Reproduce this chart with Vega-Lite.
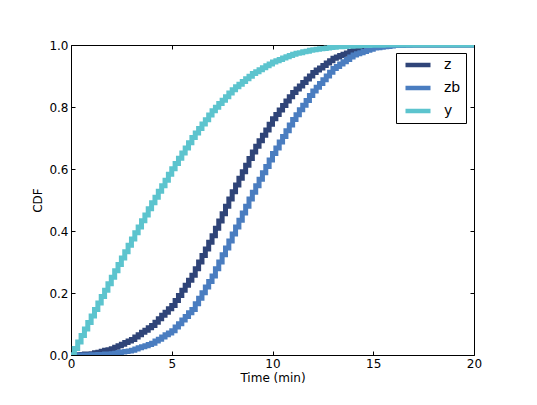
{
  "$schema": "https://vega.github.io/schema/vega-lite/v6.json",
  "width": 403,
  "height": 310,
  "autosize": {"type": "none"},
  "padding": {"left": 71, "top": 45, "right": 63, "bottom": 50},
  "background": "white",
  "config": {
    "font": "DejaVu Sans",
    "view": {"stroke": "#000", "strokeWidth": 1},
    "axis": {
      "grid": false, "domain": false, "tickColor": "#000", "tickWidth": 1, "tickSize": -4,
      "labelColor": "#000", "labelFont": "DejaVu Sans", "labelFontSize": 12,
      "titleFont": "DejaVu Sans", "titleFontSize": 12, "titleColor": "#000", "titleFontWeight": "normal",
      "labelFlush": false, "labelOverlap": false
    }
  },
  "data": {"values": [
    {"t":0,"z":0,"zb":0,"y":0},
    {"t":0.167,"z":0.001,"zb":0,"y":0.021},
    {"t":0.333,"z":0.001,"zb":0,"y":0.042},
    {"t":0.5,"z":0.002,"zb":0,"y":0.063},
    {"t":0.667,"z":0.003,"zb":0,"y":0.084},
    {"t":0.833,"z":0.003,"zb":0,"y":0.105},
    {"t":1,"z":0.004,"zb":0.001,"y":0.126},
    {"t":1.167,"z":0.007,"zb":0.001,"y":0.147},
    {"t":1.333,"z":0.009,"zb":0.002,"y":0.168},
    {"t":1.5,"z":0.012,"zb":0.002,"y":0.189},
    {"t":1.667,"z":0.015,"zb":0.003,"y":0.209},
    {"t":1.833,"z":0.017,"zb":0.003,"y":0.230},
    {"t":2,"z":0.020,"zb":0.004,"y":0.251},
    {"t":2.167,"z":0.025,"zb":0.006,"y":0.272},
    {"t":2.333,"z":0.030,"zb":0.008,"y":0.292},
    {"t":2.5,"z":0.035,"zb":0.010,"y":0.313},
    {"t":2.667,"z":0.040,"zb":0.011,"y":0.333},
    {"t":2.833,"z":0.045,"zb":0.013,"y":0.354},
    {"t":3,"z":0.050,"zb":0.015,"y":0.374},
    {"t":3.167,"z":0.058,"zb":0.019,"y":0.394},
    {"t":3.333,"z":0.065,"zb":0.023,"y":0.413},
    {"t":3.5,"z":0.073,"zb":0.027,"y":0.433},
    {"t":3.667,"z":0.080,"zb":0.030,"y":0.452},
    {"t":3.833,"z":0.088,"zb":0.034,"y":0.472},
    {"t":4,"z":0.095,"zb":0.038,"y":0.491},
    {"t":4.167,"z":0.106,"zb":0.045,"y":0.509},
    {"t":4.333,"z":0.117,"zb":0.051,"y":0.528},
    {"t":4.5,"z":0.128,"zb":0.058,"y":0.546},
    {"t":4.667,"z":0.138,"zb":0.065,"y":0.564},
    {"t":4.833,"z":0.149,"zb":0.071,"y":0.583},
    {"t":5,"z":0.160,"zb":0.078,"y":0.601},
    {"t":5.167,"z":0.176,"zb":0.090,"y":0.618},
    {"t":5.333,"z":0.192,"zb":0.101,"y":0.635},
    {"t":5.5,"z":0.209,"zb":0.113,"y":0.652},
    {"t":5.667,"z":0.225,"zb":0.124,"y":0.668},
    {"t":5.833,"z":0.241,"zb":0.136,"y":0.685},
    {"t":6,"z":0.257,"zb":0.147,"y":0.702},
    {"t":6.167,"z":0.278,"zb":0.165,"y":0.716},
    {"t":6.333,"z":0.300,"zb":0.183,"y":0.731},
    {"t":6.5,"z":0.321,"zb":0.201,"y":0.745},
    {"t":6.667,"z":0.342,"zb":0.219,"y":0.759},
    {"t":6.833,"z":0.364,"zb":0.237,"y":0.774},
    {"t":7,"z":0.385,"zb":0.255,"y":0.788},
    {"t":7.167,"z":0.409,"zb":0.278,"y":0.799},
    {"t":7.333,"z":0.432,"zb":0.300,"y":0.811},
    {"t":7.5,"z":0.456,"zb":0.323,"y":0.822},
    {"t":7.667,"z":0.480,"zb":0.345,"y":0.833},
    {"t":7.833,"z":0.503,"zb":0.368,"y":0.845},
    {"t":8,"z":0.527,"zb":0.390,"y":0.856},
    {"t":8.167,"z":0.548,"zb":0.413,"y":0.865},
    {"t":8.333,"z":0.570,"zb":0.435,"y":0.873},
    {"t":8.5,"z":0.591,"zb":0.458,"y":0.882},
    {"t":8.667,"z":0.612,"zb":0.480,"y":0.891},
    {"t":8.833,"z":0.634,"zb":0.503,"y":0.899},
    {"t":9,"z":0.655,"zb":0.525,"y":0.908},
    {"t":9.167,"z":0.673,"zb":0.546,"y":0.914},
    {"t":9.333,"z":0.691,"zb":0.567,"y":0.920},
    {"t":9.5,"z":0.709,"zb":0.588,"y":0.927},
    {"t":9.667,"z":0.726,"zb":0.608,"y":0.933},
    {"t":9.833,"z":0.744,"zb":0.629,"y":0.939},
    {"t":10,"z":0.762,"zb":0.650,"y":0.945},
    {"t":10.167,"z":0.776,"zb":0.668,"y":0.949},
    {"t":10.333,"z":0.790,"zb":0.687,"y":0.953},
    {"t":10.5,"z":0.805,"zb":0.705,"y":0.958},
    {"t":10.667,"z":0.819,"zb":0.723,"y":0.962},
    {"t":10.833,"z":0.833,"zb":0.742,"y":0.966},
    {"t":11,"z":0.847,"zb":0.760,"y":0.970},
    {"t":11.167,"z":0.858,"zb":0.775,"y":0.973},
    {"t":11.333,"z":0.868,"zb":0.791,"y":0.975},
    {"t":11.5,"z":0.879,"zb":0.806,"y":0.978},
    {"t":11.667,"z":0.890,"zb":0.821,"y":0.980},
    {"t":11.833,"z":0.900,"zb":0.837,"y":0.983},
    {"t":12,"z":0.911,"zb":0.852,"y":0.985},
    {"t":12.167,"z":0.919,"zb":0.864,"y":0.986},
    {"t":12.333,"z":0.926,"zb":0.876,"y":0.988},
    {"t":12.5,"z":0.934,"zb":0.888,"y":0.989},
    {"t":12.667,"z":0.942,"zb":0.900,"y":0.990},
    {"t":12.833,"z":0.949,"zb":0.912,"y":0.992},
    {"t":13,"z":0.957,"zb":0.924,"y":0.993},
    {"t":13.167,"z":0.961,"zb":0.931,"y":0.994},
    {"t":13.333,"z":0.966,"zb":0.939,"y":0.994},
    {"t":13.5,"z":0.970,"zb":0.946,"y":0.995},
    {"t":13.667,"z":0.974,"zb":0.953,"y":0.996},
    {"t":13.833,"z":0.979,"zb":0.961,"y":0.996},
    {"t":14,"z":0.983,"zb":0.968,"y":0.997},
    {"t":14.167,"z":0.985,"zb":0.972,"y":0.997},
    {"t":14.333,"z":0.987,"zb":0.975,"y":0.998},
    {"t":14.5,"z":0.989,"zb":0.979,"y":0.998},
    {"t":14.667,"z":0.991,"zb":0.983,"y":0.998},
    {"t":14.833,"z":0.993,"zb":0.986,"y":0.999},
    {"t":15,"z":0.995,"zb":0.990,"y":0.999},
    {"t":15.167,"z":0.996,"zb":0.991,"y":0.999},
    {"t":15.333,"z":0.996,"zb":0.993,"y":0.999},
    {"t":15.5,"z":0.997,"zb":0.994,"y":1},
    {"t":15.667,"z":0.998,"zb":0.995,"y":1},
    {"t":15.833,"z":0.998,"zb":0.997,"y":1},
    {"t":16,"z":0.999,"zb":0.998,"y":1},
    {"t":16.167,"z":0.999,"zb":0.998,"y":1},
    {"t":16.333,"z":0.999,"zb":0.999,"y":1},
    {"t":16.5,"z":1,"zb":0.999,"y":1},
    {"t":16.667,"z":1,"zb":0.999,"y":1},
    {"t":16.833,"z":1,"zb":1,"y":1},
    {"t":17,"z":1,"zb":1,"y":1},
    {"t":20,"z":1,"zb":1,"y":1}
  ]},
  "transform": [{"fold": ["z", "zb", "y"], "as": ["series", "p"]}],
  "layer": [
    {
      "mark": {"type": "line", "interpolate": "step-after", "strokeWidth": 5, "clip": true},
      "encoding": {
        "x": {"field": "t", "type": "quantitative", "scale": {"domain": [0, 20], "nice": false},
          "axis": {"orient": "bottom", "values": [0, 5, 10, 15, 20], "format": "d", "title": "Time (min)", "labelPadding": 7, "titlePadding": 3}},
        "y": {"field": "p", "type": "quantitative", "scale": {"domain": [0, 1], "nice": false},
          "axis": {"orient": "left", "values": [0, 0.2, 0.4, 0.6, 0.8, 1], "format": ".1f", "title": "CDF", "labelPadding": 7, "titlePadding": 4}},
        "color": {"field": "series", "type": "nominal",
          "scale": {"domain": ["z", "zb", "y"], "range": ["#2f4478", "#4a7dc0", "#5cc4ce"]},
          "legend": {"title": null, "orient": "top-right", "offset": 8, "padding": 5,
            "strokeColor": "#000", "fillColor": "#fff", "cornerRadius": 0,
            "symbolType": "stroke", "symbolSize": 625, "symbolStrokeWidth": 4.5,
            "symbolOffset": 2, "labelOffset": 11, "labelFontSize": 14, "labelColor": "#000",
            "labelFont": "DejaVu Sans", "clipHeight": 14, "rowPadding": 9}}
      }
    },
    {
      "mark": {"type": "point", "opacity": 0},
      "encoding": {
        "x": {"field": "t", "type": "quantitative",
          "axis": {"orient": "top", "values": [0, 5, 10, 15, 20], "labels": false, "title": null}},
        "y": {"field": "p", "type": "quantitative",
          "axis": {"orient": "right", "values": [0, 0.2, 0.4, 0.6, 0.8, 1], "labels": false, "title": null}}
      }
    }
  ],
  "resolve": {"axis": {"x": "independent", "y": "independent"}}
}
